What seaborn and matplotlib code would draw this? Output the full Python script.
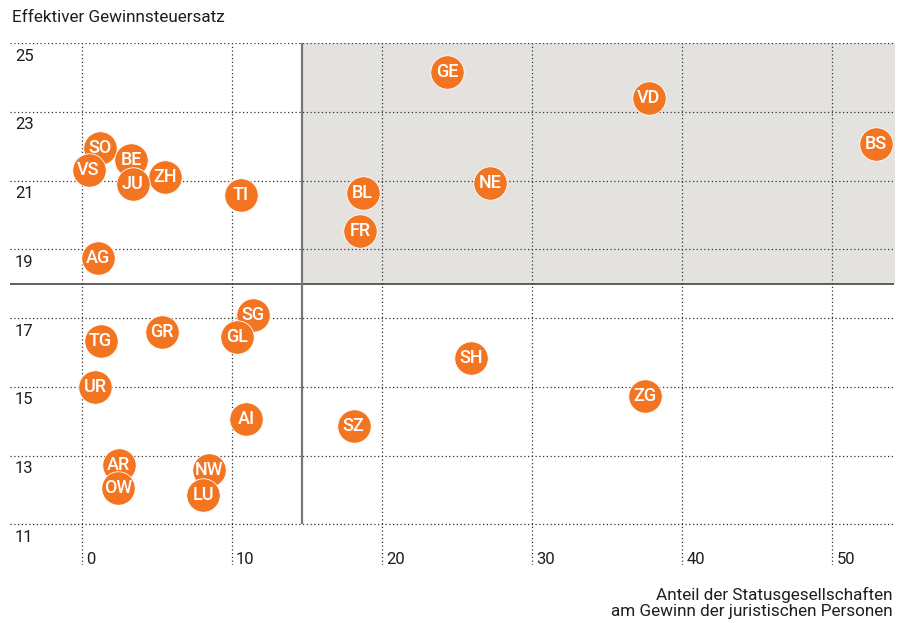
import matplotlib
matplotlib.use("Agg")
import matplotlib.pyplot as plt
import matplotlib.transforms as mtransforms
import seaborn as sns
import pandas as pd

# ---- data -------------------------------------------------------------
cantons = ["GE", "VD", "BS", "SO", "BE", "VS", "ZH", "JU", "TI", "BL", "NE", "FR",
           "AG", "SG", "GR", "GL", "TG", "SH", "UR", "ZG", "AI", "SZ", "AR", "NW",
           "OW", "LU"]
share_status = [24.35, 37.75, 52.9, 1.2, 3.3, 0.45, 5.55, 3.4, 10.6, 18.7, 27.2, 18.55,
                1.05, 11.4, 5.35, 10.35, 1.25, 25.95, 0.9, 37.5, 10.95, 18.1, 2.45, 8.45,
                2.4, 8.1]
tax_rate = [24.15, 23.4, 22.08, 21.95, 21.6, 21.32, 21.1, 20.9, 20.58, 20.63, 20.92, 19.53,
            18.76, 17.08, 16.6, 16.45, 16.33, 15.83, 15.0, 14.73, 14.08, 13.85, 12.72, 12.58,
            12.05, 11.85]
x_threshold = 14.65
y_threshold = 18.0
x_ticks = [0, 10, 20, 30, 40, 50]
y_ticks = [11, 13, 15, 17, 19, 21, 23, 25]

y_title = "Effektiver Gewinnsteuersatz"
x_title = "Anteil der Statusgesellschaften\nam Gewinn der juristischen Personen"

df = pd.DataFrame({"Kanton": cantons, "x": share_status, "y": tax_rate})

# ---- style ------------------------------------------------------------
sns.set_style("white")
plt.rcParams["font.family"] = ["Roboto", "DejaVu Sans"]

ORANGE = "#F37421"
SHADE = "#E3E2DE"
GRID = "#333333"
TEXT = "#1e1e1e"

fig = plt.figure(figsize=(9.08, 6.23), dpi=100)
ax = fig.add_axes([10 / 908, (623 - 565) / 623, 884 / 908, (565 - 42.5) / 623])

xmin, xmax = -4.78, 54.1
ymin, ymax = 9.82, 25.02
ax.set_xlim(xmin, xmax)
ax.set_ylim(ymin, ymax)

# shaded quadrant
ax.fill_between([x_threshold, xmax + 1], y_threshold, max(y_ticks), color=SHADE,
                zorder=0, linewidth=0)

# grid
ax.set_xticks(x_ticks)
ax.set_yticks(y_ticks)
ax.grid(True, color=GRID, linestyle=(0, (1, 2)), linewidth=0.9)
ax.set_axisbelow(True)
for sp in ax.spines.values():
    sp.set_visible(False)

# threshold lines
ax.axhline(y_threshold, color="#444444", linewidth=1.2, zorder=1)
ax.vlines(x_threshold, min(y_ticks), max(y_ticks), color="#777777", linewidth=1.6, zorder=1)

# points
sns.scatterplot(data=df, x="x", y="y", ax=ax, s=580, color=ORANGE,
                edgecolor="white", linewidth=0.6, zorder=3, legend=False)
for _, r in df.iterrows():
    ax.text(r["x"], r["y"], r["Kanton"], ha="center", va="center", color="white",
            fontsize=13, fontweight="medium", zorder=4)

# tick labels inside the plot
ax.tick_params(axis="both", length=0, pad=0, labelsize=12, labelcolor=TEXT)
ax.set_xticklabels([str(t) for t in x_ticks])
ax.set_yticklabels([str(t) for t in y_ticks])
for lab in ax.get_xticklabels():
    lab.set_ha("left")
    lab.set_va("center")
    lab.set_transform(lab.get_transform() +
                      mtransforms.ScaledTranslation(4 / 100, 6 / 100, fig.dpi_scale_trans))
for lab in ax.get_yticklabels():
    lab.set_ha("left")
    lab.set_va("center")
    lab.set_transform(lab.get_transform() +
                      mtransforms.ScaledTranslation(5 / 100, -13 / 100, fig.dpi_scale_trans))

ax.set_xlabel("")
ax.set_ylabel("")

fig.text(12 / 908, 1 - 17 / 623, y_title, ha="left", va="center", fontsize=12.3,
         color=TEXT)
fig.text(893 / 908, 1 - 603 / 623, x_title, ha="right", va="center", fontsize=12.3,
         color=TEXT, linespacing=1.1)

fig.savefig("out.png", dpi=100)
